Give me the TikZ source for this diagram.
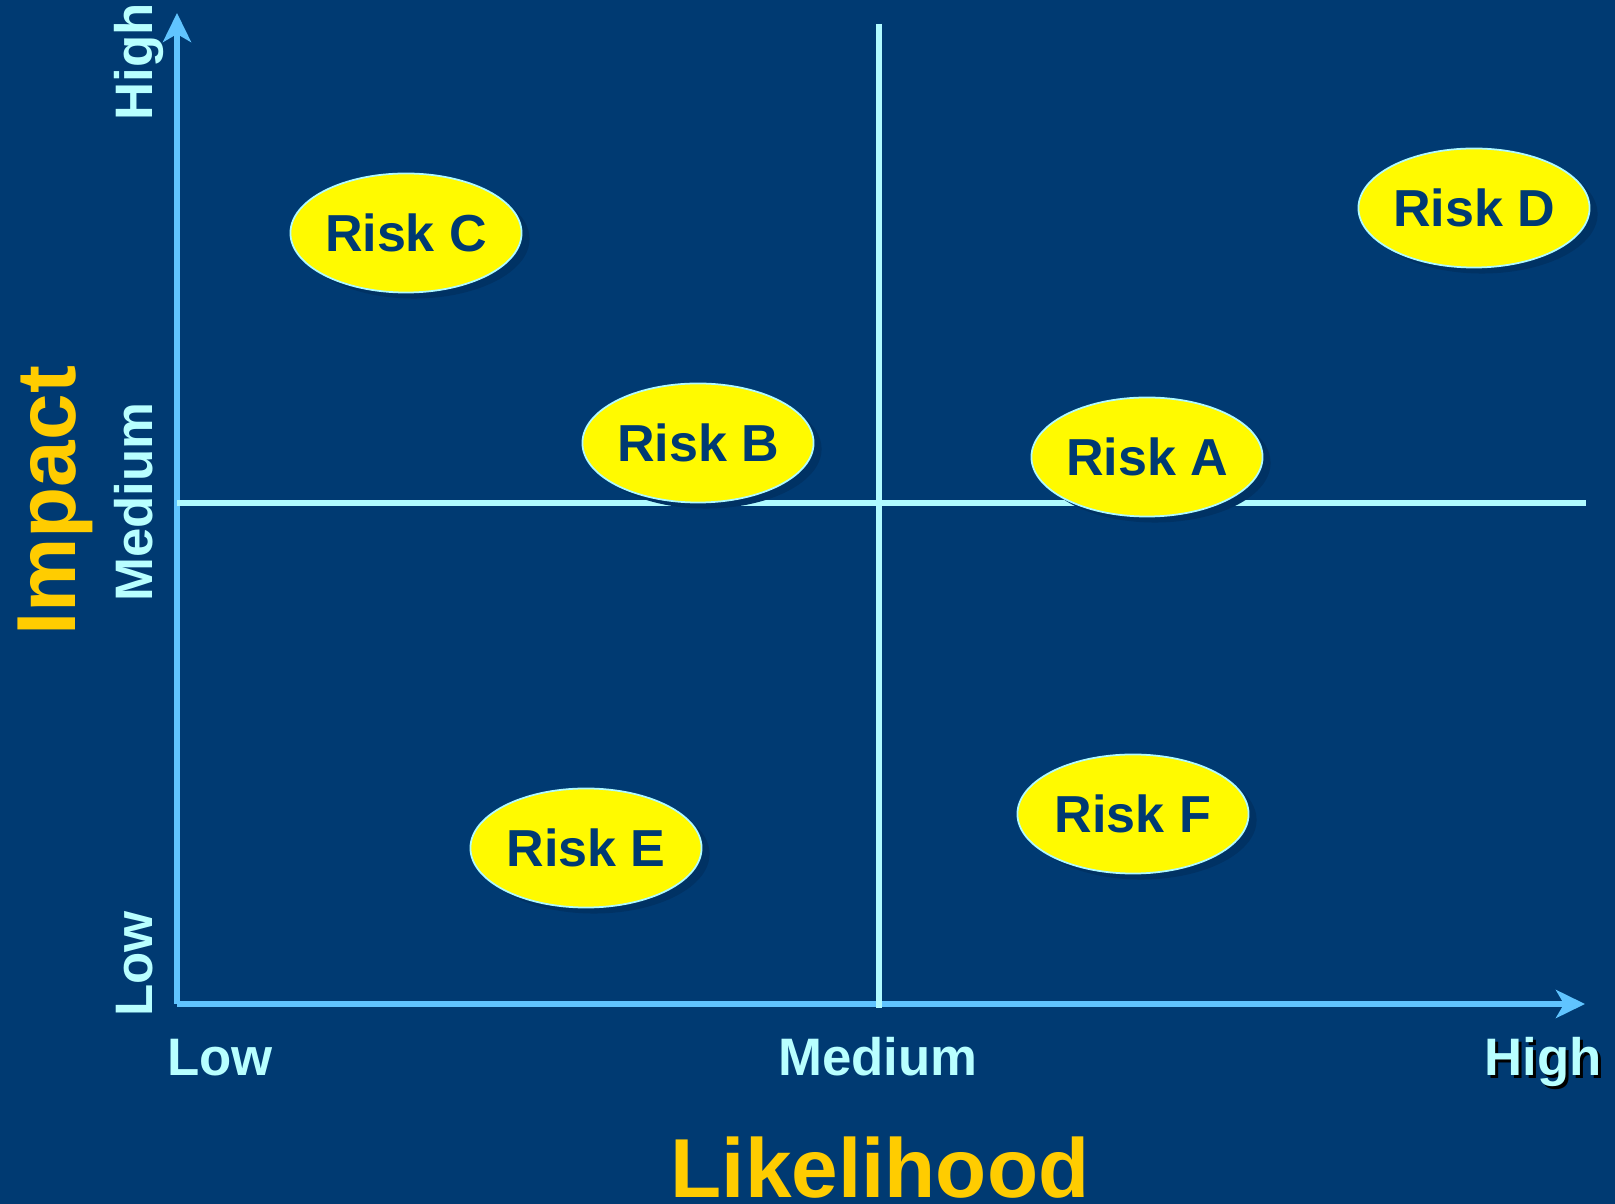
\documentclass[tikz,border=0pt]{standalone}
\usepackage{fontspec}
\setmainfont{Liberation Sans}
\usepackage{tikz}
\usetikzlibrary{arrows.meta, shapes.geometric, positioning}
\usepackage{xcolor}
\definecolor{boardNavy}{RGB}{0, 58, 114}
\definecolor{ovalShadow}{RGB}{0, 50, 100}
\definecolor{axisBlue}{RGB}{96, 196, 255}
\definecolor{gridCyan}{RGB}{176, 250, 255}
\definecolor{labelCyan}{RGB}{184, 255, 255}
\definecolor{titleGold}{RGB}{255, 204, 0}
\definecolor{riskYellow}{RGB}{255, 250, 0}

\begin{document}
\begin{tikzpicture}[x=0.01cm, y=-0.01cm, font=\bfseries,
  riskoval/.style={ellipse, draw=gridCyan, line width=0.5pt, fill=riskYellow, text=boardNavy,
    minimum width=2.31cm, minimum height=1.19cm, inner sep=0pt, font=\fontsize{14.8}{18}\selectfont\bfseries},
  riskshade/.style={ellipse, fill=ovalShadow, minimum width=2.31cm, minimum height=1.19cm, inner sep=0pt},
  scalelbl/.style={text=labelCyan, anchor=base, font=\fontsize{15}{18}\selectfont\bfseries},
  axistitle/.style={text=titleGold, anchor=base, font=\fontsize{23.8}{28}\selectfont\bfseries},
  axisline/.style={draw=axisBlue, line width=1.5pt, -{Stealth[length=0.29cm, width=0.28cm, inset=0.08cm]}},
  gridline/.style={draw=gridCyan, line width=1.5pt}]
  % background
  \fill[boardNavy] (0,0) rectangle (1615,1204);
  \useasboundingbox (0,0) rectangle (1615,1204);

  % axes
  \coordinate (o) at (177,1004);
  \coordinate (ytip) at (177,13);
  \coordinate (xtip) at (1585,1004);
  \draw[axisline] (o) -- (ytip);
  \draw[axisline] (o) -- (xtip);

  % quadrant lines
  \coordinate (vtop) at (879,24);
  \coordinate (vbot) at (879,1008);
  \coordinate (hleft) at (177,503);
  \coordinate (hright) at (1586,503);
  \draw[gridline] (vtop) -- (vbot);
  \draw[gridline] (hleft) -- (hright);

  % risk ovals with their drop shadow
  \foreach \r/\x/\y in {A/1147/457, B/698/443, C/406/233, D/1474/208, E/586/848, F/1133/814} {
    \node[riskshade] (shade\r) at (\x+8,\y+6) {};
    \node[riskoval] (risk\r) at (\x,\y) {Risk \r};
  }

  % scale labels
  \node[scalelbl] (xlow) at (220,1075) {Low};
  \node[scalelbl] (xmed) at (878,1075) {Medium};
  \node[scalelbl, text=black] (xhighshade) at (1546,1078) {High};
  \node[scalelbl] (xhigh) at (1543,1075) {High};
  \node[scalelbl, rotate=90] (ylow) at (152,964) {Low};
  \node[scalelbl, rotate=90] (ymed) at (152,502) {Medium};
  \node[scalelbl, rotate=90] (yhigh) at (152,62) {High};

  % axis titles
  \node[axistitle] (likelihood) at (880,1197) {Likelihood};
  \node[axistitle, rotate=90] (impact) at (75,501) {Impact};
\end{tikzpicture}
\end{document}
